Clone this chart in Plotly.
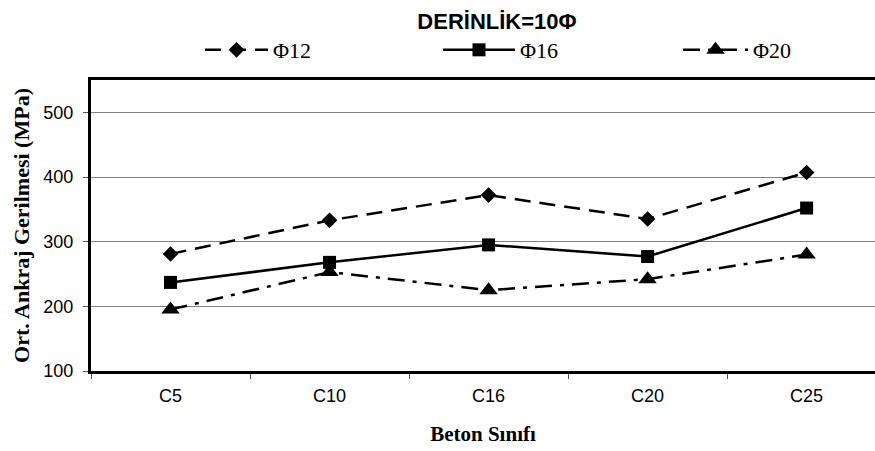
import plotly.graph_objects as go

categories = ["C5", "C10", "C16", "C20", "C25"]
phi12 = [281, 333, 372, 335, 407]
phi16 = [237, 268, 295, 277, 352]
phi20 = [195, 253, 225, 242, 280]
series_names = ["\u03a612", "\u03a616", "\u03a620"]
y_ticks = [100, 200, 300, 400, 500]

fig = go.Figure()
fig.add_trace(go.Scatter(x=categories, y=phi12, name=series_names[0], mode="lines+markers",
                         legend="legend",
                         line=dict(color="black", width=2.5, dash="16px,9px"),
                         marker=dict(symbol="diamond", size=12, color="black")))
fig.add_trace(go.Scatter(x=categories, y=phi16, name=series_names[1], mode="lines+markers",
                         legend="legend2",
                         line=dict(color="black", width=2.5),
                         marker=dict(symbol="square", size=13, color="black")))
fig.add_trace(go.Scatter(x=categories, y=phi20, name=series_names[2], mode="lines+markers",
                         legend="legend3",
                         line=dict(color="black", width=2.5, dash="17px,8px,4px,8px"),
                         marker=dict(symbol="triangle-up", size=16, color="black")))

PLOT_L, PLOT_W = 91, 784


def legend_at(left_px, iw):
    return dict(orientation="h", x=(left_px - PLOT_L) / PLOT_W, xanchor="left",
                y=1.103, yanchor="middle",
                font=dict(family="Times New Roman, Liberation Serif", size=22, color="black"),
                itemwidth=iw, bgcolor="rgba(0,0,0,0)", borderwidth=0)


fig.update_layout(
    width=875, height=451,
    margin=dict(l=PLOT_L, r=0, t=80, b=80),
    paper_bgcolor="white", plot_bgcolor="white",
    title=dict(text="<b>DER\u0130NL\u0130K=10\u03a6</b>", x=497 / 875, xanchor="center",
               y=1 - 21 / 451, yanchor="middle",
               font=dict(family="Arial, Liberation Sans", size=22, color="black")),
    legend=legend_at(200, 63),
    legend2=legend_at(438, 72),
    legend3=legend_at(678, 65),
    showlegend=True,
)
fig.update_xaxes(type="category", categoryorder="array", categoryarray=categories,
                 range=[-0.5, 4.43], tickson="boundaries", ticks="outside", ticklen=5,
                 tickcolor="#555", showgrid=False, showline=True, linecolor="black",
                 linewidth=3, mirror=True, zeroline=False, ticklabelstandoff=6,
                 tickfont=dict(family="Arial, Liberation Sans", size=18, color="black"),
                 title=dict(text="<b>Beton S\u0131n\u0131f\u0131</b>", standoff=22,
                            font=dict(family="Times New Roman, Liberation Serif", size=21, color="black")))
fig.update_yaxes(range=[100, 550], tickvals=y_ticks, ticks="outside", ticklen=5,
                 tickcolor="#555", showgrid=True, gridcolor="#808080", gridwidth=1,
                 showline=True, linecolor="black", linewidth=3, zeroline=False,
                 ticklabelstandoff=6,
                 tickfont=dict(family="Arial, Liberation Sans", size=18, color="black"),
                 title=dict(text="<b>Ort. Ankraj Gerilmesi (MPa)</b>", standoff=8,
                            font=dict(family="Times New Roman, Liberation Serif", size=22, color="black")))

fig.write_html("out.html")
